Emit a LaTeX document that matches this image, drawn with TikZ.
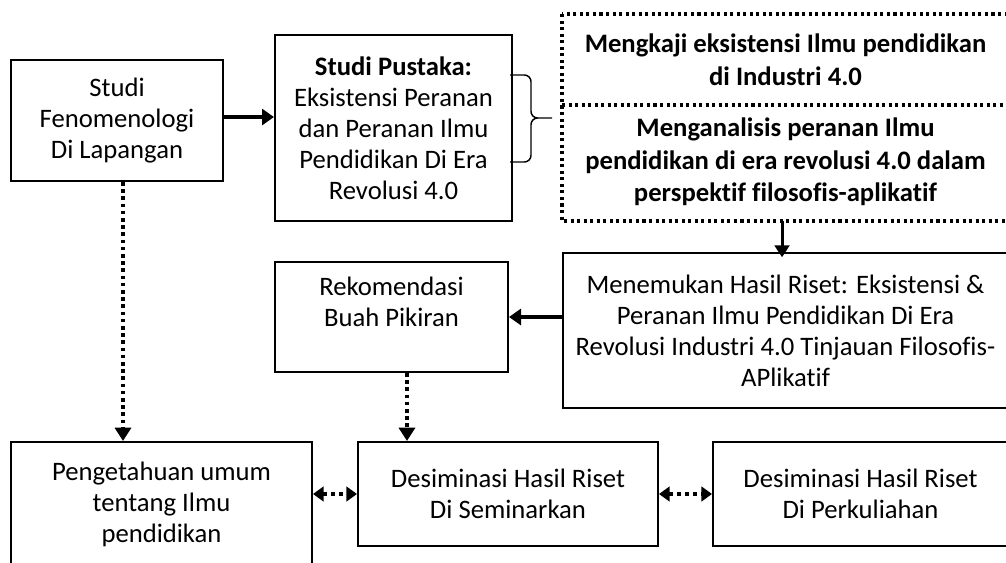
\documentclass[tikz,border=0pt]{standalone}
\usepackage{fontspec}
\setmainfont{Carlito}[Ligatures={NoCommon}]
\usetikzlibrary{arrows.meta,calc}

\begin{document}
\begin{tikzpicture}[x=0.75pt,y=-0.75pt,line cap=butt,
  box/.style={draw,line width=1.5pt,inner sep=0pt,align=center,
    font=\fontsize{20}{23.3}\selectfont},
  dotbox/.style={line width=2.3pt,dash pattern=on 2.3pt off 2.6pt},
  thickarr/.style={line width=3.4pt,-{Triangle[length=9pt,width=12pt]}},
  medarr/.style={line width=2.3pt,-{Triangle[length=9pt,width=11pt]}},
  dotarr/.style={line width=2.7pt,dash pattern=on 2.7pt off 2.7pt,
    -{Triangle[length=10pt,width=12pt]}},
  dblarr/.style={line width=3pt,dash pattern=on 3pt off 3pt,
    {Triangle[length=8pt,width=11pt]}-{Triangle[length=8pt,width=11pt]}}]
\useasboundingbox (0,0) rectangle (1006,563);

% top row
\node[box,minimum width=159pt,minimum height=90.75pt] (feno) at (117,120.5)
  {Studi\\Fenomenologi\\Di Lapangan};
\node[box,minimum width=177.75pt,minimum height=139.5pt] (pustaka) at (393.5,128)
  {\textbf{Studi Pustaka:}\\Eksistensi Peranan\\dan Peranan Ilmu\\Pendidikan Di Era\\Revolusi 4.0};
\node[box,draw=none,font=\fontsize{20}{24.5}\selectfont\bfseries,
  minimum width=333.75pt,minimum height=66.75pt] (kaji) at (785.5,59.5)
  {Mengkaji eksistensi Ilmu pendidikan\\di Industri 4.0};
\node[box,draw=none,font=\fontsize{20}{24.5}\selectfont\bfseries,
  minimum width=333.75pt,minimum height=87pt] (analisis) at (785.5,162)
  {Menganalisis peranan Ilmu\\pendidikan di era revolusi 4.0 dalam\\perspektif filosofis-aplikatif};
\draw[dotbox] (kaji.north west) rectangle (analisis.south east);
\draw[dotbox] (kaji.south west) -- (kaji.south east);

% brace
\draw[line width=1.1pt,rounded corners=5pt] (510,75) -- (531,75) -- (531,118) -- (552,118)
  (510,162) -- (531,162) -- (531,118) -- (552,118);

% middle row
\node[box,minimum width=333.75pt,minimum height=116.25pt] (menemu) at (785.5,330.5)
  {Menemukan Hasil Riset: Eksistensi \&\\Peranan Ilmu Pendidikan Di Era\\Revolusi Industri 4.0 Tinjauan Filosofis-\\APlikatif};
\node[box,minimum width=174.75pt,minimum height=82.5pt] (rekom) at (391.5,317)
  {Rekomendasi\\Buah Pikiran\\\mbox{}};

% bottom row
\node[box,minimum width=225.75pt,minimum height=93pt] (penget) at (161.5,504)
  {Pengetahuan umum\\tentang Ilmu\\pendidikan};
\node[box,minimum width=225pt,minimum height=78pt] (desem) at (508,494)
  {Desiminasi Hasil Riset\\Di Seminarkan};
\node[box,minimum width=221.25pt,minimum height=78pt] (perkul) at (860.5,494)
  {Desiminasi Hasil Riset\\Di Perkuliahan};

% connectors
\draw[thickarr] ([yshift=2.6pt]feno.east) -- ([yshift=2.6pt]feno.east -| pustaka.west);
\draw[medarr,shorten >=-4pt] ([xshift=-2.6pt]analisis.south) -- ([xshift=-2.6pt]menemu.north);
\draw[thickarr] (rekom.east -| menemu.west) -- (rekom.east);
\draw[dotarr] ([xshift=4.5pt]feno.south) -- ([xshift=4.5pt]feno.south |- penget.north);
\draw[dotarr] ([xshift=11.6pt]rekom.south) -- ([xshift=11.6pt]rekom.south |- desem.north);
\draw[dblarr] (desem.west -| penget.east) -- (desem.west);
\draw[dblarr] (desem.east) -- (perkul.west);
\end{tikzpicture}
\end{document}
